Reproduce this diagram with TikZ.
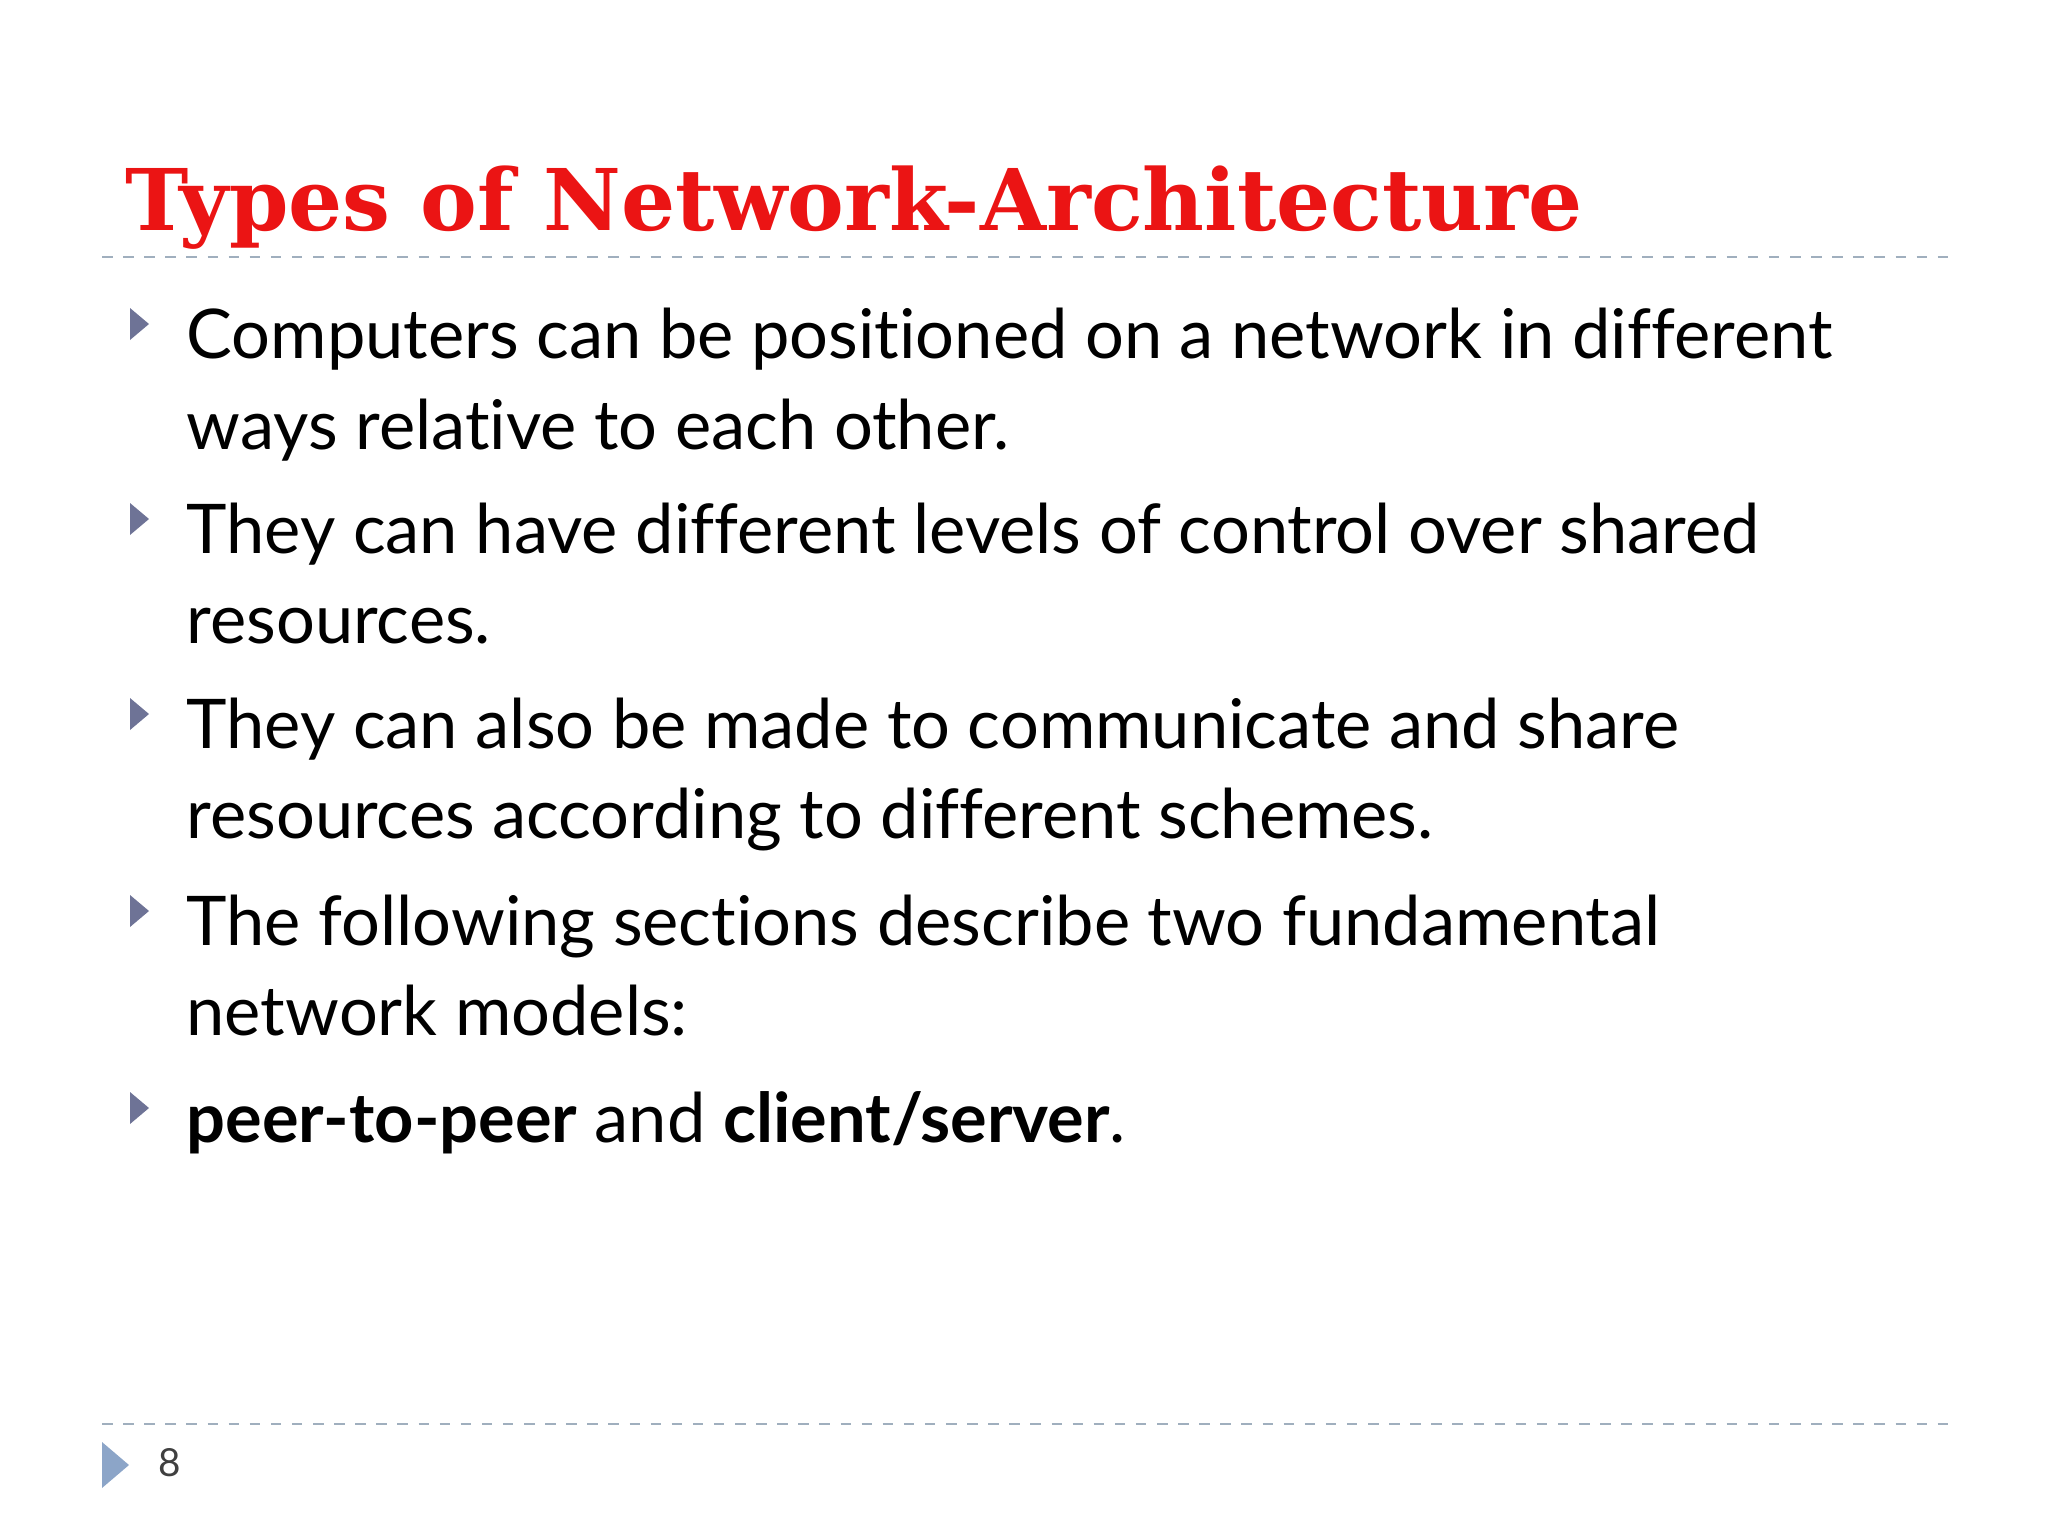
\documentclass[tikz,border=0pt]{standalone}
\usepackage{fontspec}
\setmainfont{Lato}[Ligatures=NoCommon]
\newfontfamily\titlefont{DejaVu Serif}
\definecolor{titlered}{RGB}{235,20,20}
\definecolor{bul}{RGB}{110,115,150}
\definecolor{dashcol}{RGB}{160,175,190}
\definecolor{foot}{RGB}{140,165,200}
\begin{document}
\begin{tikzpicture}[x=0.01cm,y=-0.01cm,
  txt/.style={anchor=base west,inner sep=0,font=\fontsize{19.5}{20}\selectfont},
  btri/.style={fill=bul,draw=none}]
\useasboundingbox (0,0) rectangle (2048,1536);
\node[anchor=base west,inner sep=0,text=titlered,font=\titlefont\bfseries\fontsize{24.2}{26}\selectfont] (title) at (125,230) {Types of Network-Architecture};
\draw[dashcol,dashed,line width=0.6pt] (102,257) coordinate (d1) -- (1956,257) coordinate (d2);
\draw[dashcol,dashed,line width=0.6pt] (102,1424) coordinate (d3) -- (1956,1424) coordinate (d4);
\foreach \y in {358,553,748,945,1142}{
  \fill[btri] (130,\y-50) -- (149,\y-34) -- (130,\y-18) -- cycle;}
\node[txt] (l1) at (186,358) {Computers can be positioned on a network in different};
\node[txt] (l2) at (186,449) {ways relative to each other.};
\node[txt] (l3) at (186,553) {They can have different levels of control over shared};
\node[txt] (l4) at (186,643) {resources.};
\node[txt] (l5) at (186,748) {They can also be made to communicate and share};
\node[txt] (l6) at (186,838) {resources according to different schemes.};
\node[txt] (l7) at (186,945) {The following sections describe two fundamental};
\node[txt] (l8) at (186,1035) {network models:};
\node[txt] (l9) at (186,1142) {\textbf{peer-to-peer} and \textbf{client/server}.};
\fill[foot] (102,1442) -- (129,1465) -- (102,1488) -- cycle;
\node[anchor=base west,inner sep=0,font=\fontsize{11}{12}\selectfont,text=black!75] (pg) at (158,1476) {8};
\end{tikzpicture}
\end{document}
